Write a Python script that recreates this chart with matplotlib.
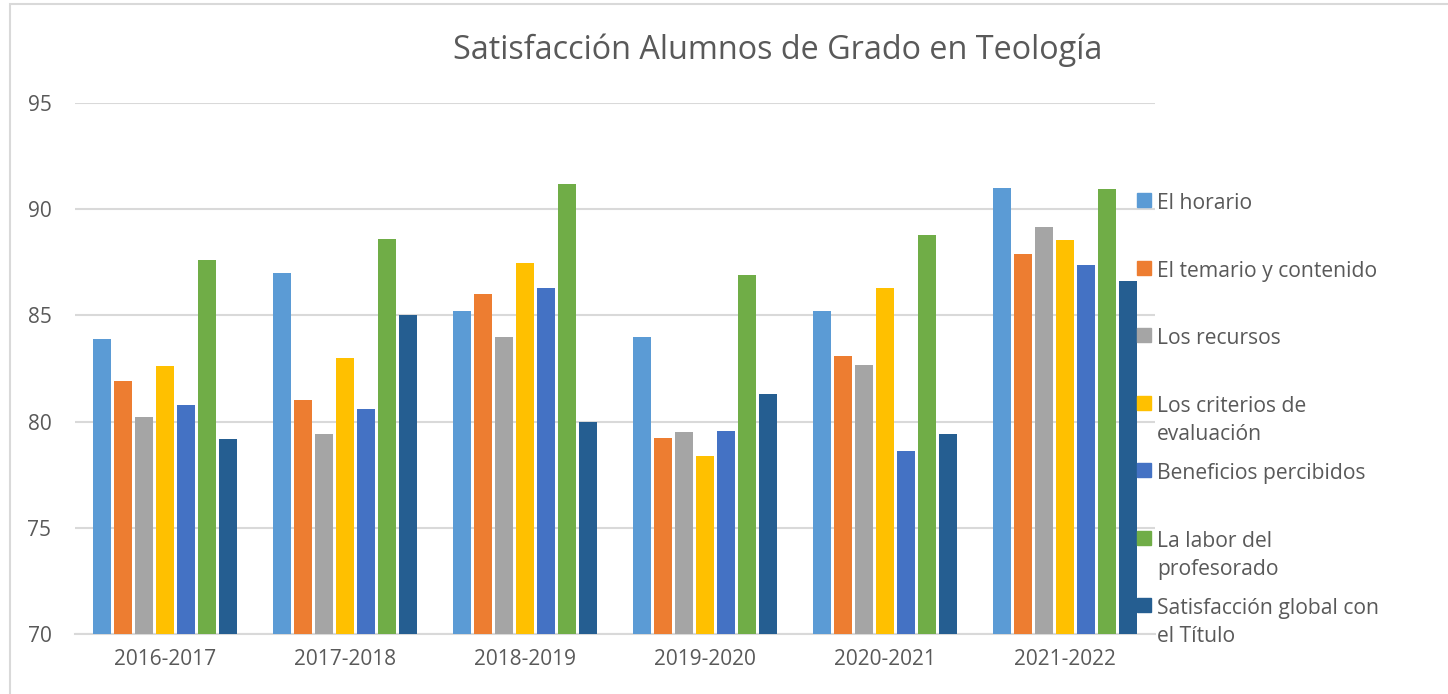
import numpy as np
import matplotlib.pyplot as plt
from matplotlib.patches import Rectangle

years = ["2016-2017", "2017-2018", "2018-2019", "2019-2020", "2020-2021", "2021-2022"]

series_names = [
    "El horario",
    "El temario y contenido",
    "Los recursos",
    "Los criterios de\nevaluación",
    "Beneficios percibidos",
    "La labor del\nprofesorado",
    "Satisfacción global con\nel Título",
]
series_colors = ["#5B9BD5", "#ED7D31", "#A5A5A5", "#FFC000", "#4472C4", "#70AD47", "#255E91"]

horario    = [83.9, 87.0, 85.2, 84.0, 85.2, 91.0]
temario    = [81.9, 81.0, 86.0, 79.25, 83.1, 87.9]
recursos   = [80.2, 79.4, 84.0, 79.5, 82.65, 89.15]
criterios  = [82.6, 83.0, 87.45, 78.4, 86.3, 88.55]
beneficios = [80.8, 80.6, 86.3, 79.55, 78.6, 87.35]
labor      = [87.6, 88.6, 91.2, 86.9, 88.8, 90.95]
global_sat = [79.2, 85.0, 80.0, 81.3, 79.4, 86.6]

values = [horario, temario, recursos, criterios, beneficios, labor, global_sat]

W, H = 1448, 694
fig = plt.figure(figsize=(W / 100, H / 100), dpi=100)
ax = fig.add_axes([75 / W, 1 - 634 / H, (1155 - 75) / W, (634 - 103) / H])

FONT = "Open Sans"
TXT = "#595959"
GRID = "#D9D9D9"

x = np.arange(len(years))
slot = 0.1167
bar_w = 0.095
n = len(values)
for i, (vals, col) in enumerate(zip(values, series_colors)):
    off = (i - (n - 1) / 2) * slot
    ax.bar(x + off, np.array(vals) - 70, bottom=70, width=bar_w, color=col, zorder=3)

ax.set_ylim(70, 95)
ax.set_xlim(-0.5, 5.5)
ax.set_yticks([70, 75, 80, 85, 90, 95])
ax.set_xticks(x)
ax.set_xticklabels(years)
ax.grid(axis="y", color=GRID, linewidth=1.5, zorder=0)
for s in ["top", "right", "left"]:
    ax.spines[s].set_visible(False)
ax.spines["bottom"].set_color(GRID)
ax.spines["bottom"].set_linewidth(1.5)
ax.tick_params(length=0, labelcolor=TXT, labelsize=15)
ax.tick_params(axis="y", pad=17)
ax.tick_params(axis="x", pad=11)
for lab in ax.get_xticklabels() + ax.get_yticklabels():
    lab.set_fontfamily(FONT)

fig.text(778 / W, 1 - 50 / H, "Satisfacción Alumnos de Grado en Teología",
         ha="center", va="center", fontsize=23.3, color=TXT, fontfamily=FONT)

# legend drawn by hand so the swatch lines up with the first text line
legend_y = [200, 268, 335, 403, 470, 538, 605]
for name, col, yy in zip(series_names, series_colors, legend_y):
    fig.patches.append(Rectangle((1137 / W, 1 - (yy + 7) / H), 14 / W, 14 / H,
                                 transform=fig.transFigure, color=col, figure=fig))
    fig.text(1157 / W, 1 - (yy - 7) / H, name, ha="left", va="top", fontsize=15.2,
             color=TXT, fontfamily=FONT, linespacing=1.45)

# chart area border
fig.patches.append(Rectangle((10 / W, -0.1), 1.2, 1 - 4 / H + 0.1, transform=fig.transFigure,
                             fill=False, edgecolor=GRID, linewidth=1.5, figure=fig))

fig.savefig("out.png", dpi=100)
